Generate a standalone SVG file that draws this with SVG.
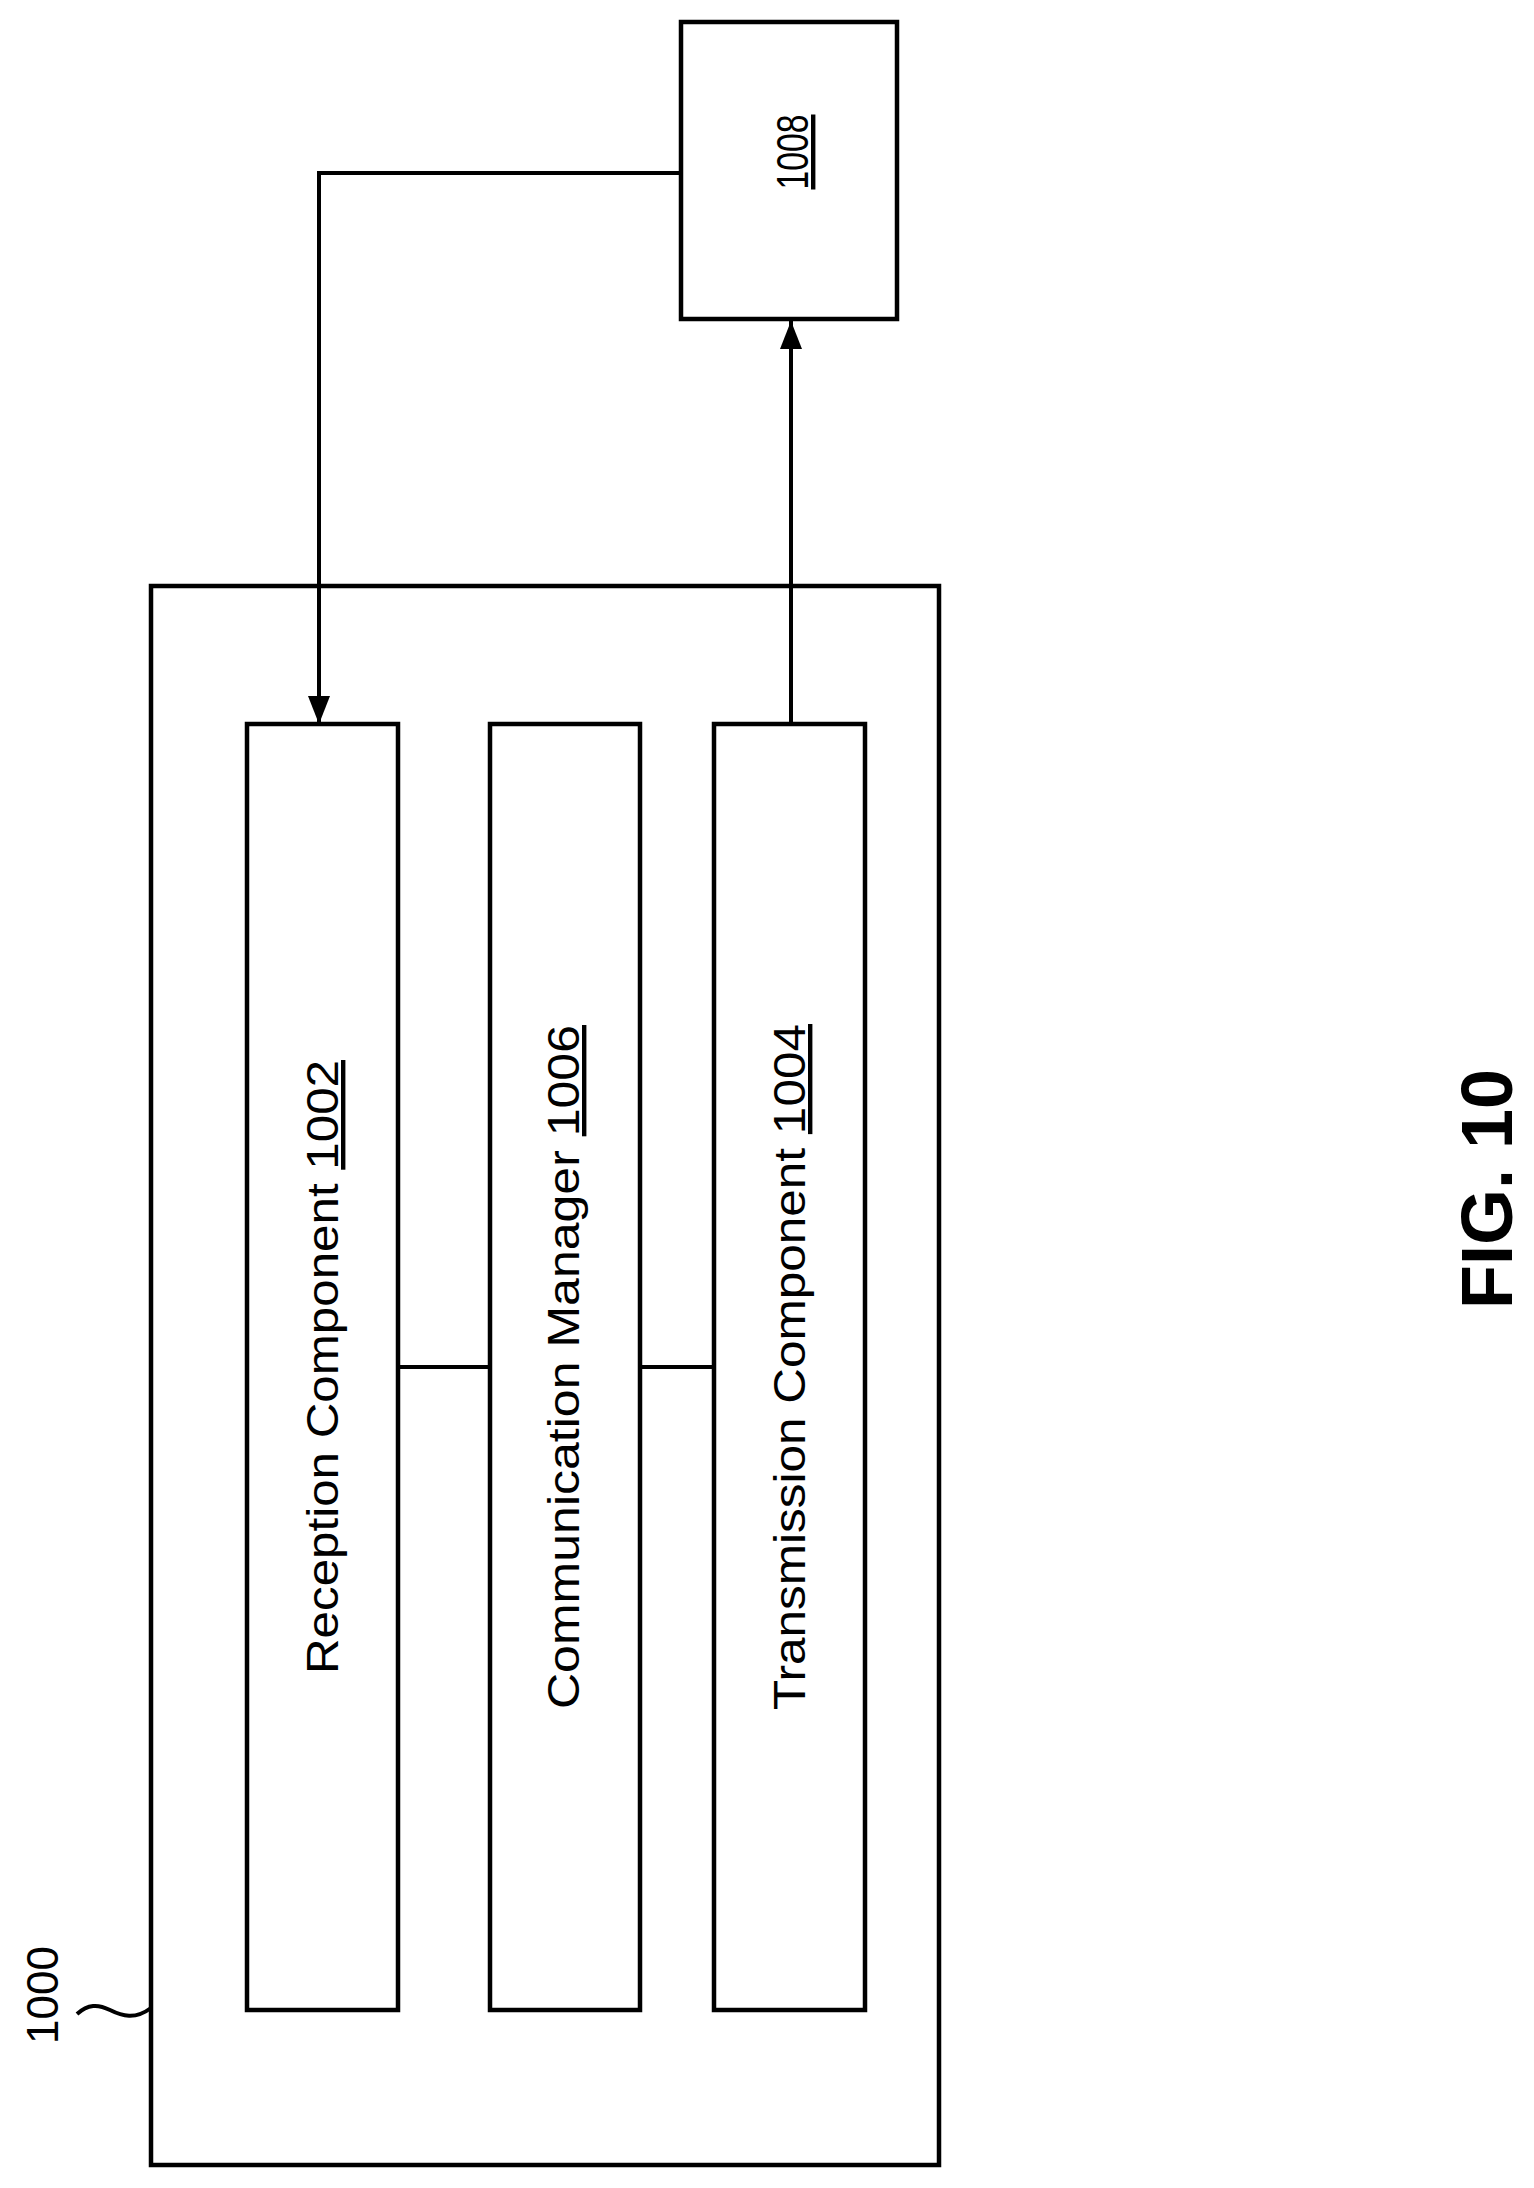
<svg xmlns="http://www.w3.org/2000/svg" width="1534" height="2188" viewBox="0 0 1534 2188">
<style>
.b{fill:#fff;stroke:#000;stroke-width:4.5}
.l{fill:none;stroke:#000;stroke-width:4}
.t{font-family:"Liberation Sans",Arial,sans-serif;font-size:44px;fill:#000}
</style>
<defs><marker id="a" viewBox="0 0 28 22" refX="28" refY="11" markerWidth="28" markerHeight="22" markerUnits="userSpaceOnUse" orient="auto"><path d="M0,0L28,11L0,22z" fill="#000"/></marker></defs>
<rect width="1534" height="2188" fill="#fff"/>
<g id="n1000"><rect class="b" x="151" y="586" width="788" height="1579"/>
<path class="l" d="M77,2014 C88,2004 98,2004 110,2010 S135,2020 151,2008"/>
<text class="t" style="font-size:44px" transform="translate(58,1995) rotate(-90)" text-anchor="middle">1000</text></g>
<g id="n1002"><rect class="b" x="247" y="724" width="151" height="1286"/>
<text class="t" transform="translate(338,1367) rotate(-90)" text-anchor="middle" textLength="614" lengthAdjust="spacingAndGlyphs">Reception Component <tspan text-decoration="underline">1002</tspan></text></g>
<g id="n1006"><rect class="b" x="490" y="724" width="150" height="1286"/>
<text class="t" transform="translate(579,1367) rotate(-90)" text-anchor="middle" textLength="684" lengthAdjust="spacingAndGlyphs">Communication Manager <tspan text-decoration="underline">1006</tspan></text></g>
<g id="n1004"><rect class="b" x="714" y="724" width="151" height="1286"/>
<text class="t" transform="translate(805,1367) rotate(-90)" text-anchor="middle" textLength="686" lengthAdjust="spacingAndGlyphs">Transmission Component <tspan text-decoration="underline">1004</tspan></text></g>
<g id="n1008"><rect class="b" x="681" y="22" width="216" height="297"/>
<text class="t" transform="translate(808,152) rotate(-90)" text-anchor="middle" text-decoration="underline" textLength="75" lengthAdjust="spacingAndGlyphs">1008</text></g>
<g id="connectors">
<path class="l" d="M681,173H319V724" marker-end="url(#a)"/>
<path class="l" d="M791,724V321" marker-end="url(#a)"/>
<path class="l" d="M398,1367H490M640,1367H714"/>
</g>
<text transform="translate(1512,1189) rotate(-90)" text-anchor="middle" style="font-family:'Liberation Sans',Arial,sans-serif;font-size:72px;font-weight:bold">FIG. 10</text>
</svg>
